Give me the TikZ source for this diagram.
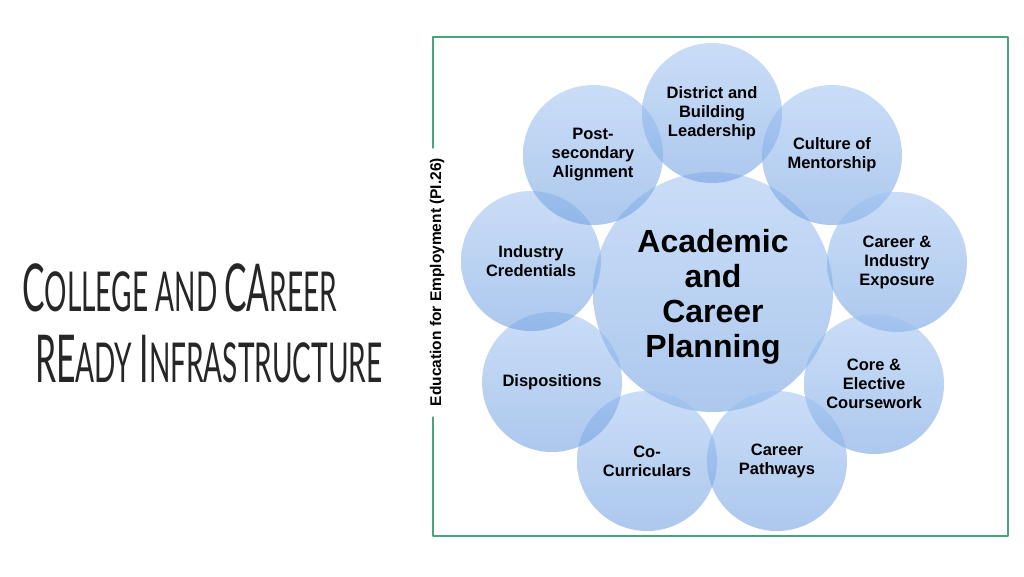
\documentclass[tikz,border=0pt]{standalone}
\usepackage{fontspec}
\setmainfont{Liberation Sans}
\newfontfamily\titlefont[FakeStretch=0.51]{Lato}
\definecolor{framegreen}{RGB}{70,165,125}
\definecolor{bubtop}{RGB}{158,193,242}
\definecolor{bubbot}{RGB}{105,155,222}
\newcommand{\tcap}[1]{{\fontsize{66}{70}\selectfont #1}}
\tikzset{
  bubble/.style={circle,minimum size=140pt,inner sep=0pt,align=center,
    top color=bubtop,bottom color=bubbot,fill opacity=0.55,text opacity=1,
    font=\fontsize{16.5}{19}\selectfont\bfseries},
  titleline/.style={anchor=base west,inner sep=0pt,text=black!85,
    font=\titlefont\fontsize{55}{60}\selectfont}
}
\begin{document}
\begin{tikzpicture}[x=1pt,y=-1pt,line join=round,line cap=round]
  \useasboundingbox (0,0) rectangle (1024,576);
  % title
  \node[titleline] (title1) at (22,311) {\tcap{C}OLLEGE AND \tcap{CA}REER};
  \node[titleline] (title2) at (35,382) {\tcap{RE}ADY \tcap{I}NFRASTRUCTURE};
  % frame and side label
  \node[rotate=90,font=\fontsize{15.5}{17}\selectfont\bfseries] (e4e) at (437,282) {Education for Employment (PI.26)};
  \draw[framegreen,line width=1.2pt] (433,148) -- (433,37) -- (1008,37) -- (1008,536) -- (433,536) -- (433,417);
  % bubbles
  \node[bubble,minimum size=240pt,
    label={[align=center,yshift=-5pt,font=\fontsize{32}{35}\selectfont\bfseries]center:{Academic\\and\\Career\\Planning}}] (acp) at (713,292) {};
  \node[bubble] (lead) at (712,113) {District and\\Building\\Leadership};
  \node[bubble] (mentor) at (832,155) {Culture of\\Mentorship};
  \node[bubble] (expo) at (897,262) {Career \&\\Industry\\Exposure};
  \node[bubble] (course) at (874,384) {Core \&\\Elective\\Coursework};
  \node[bubble] (path) at (777,461) {Career\\Pathways};
  \node[bubble] (cocur) at (647,461) {Co-\\Curriculars};
  \node[bubble] (disp) at (552,382) {Dispositions};
  \node[bubble] (cred) at (531,261) {Industry\\Credentials};
  \node[bubble] (post) at (593,155) {Post-\\secondary\\Alignment};
\end{tikzpicture}
\end{document}
